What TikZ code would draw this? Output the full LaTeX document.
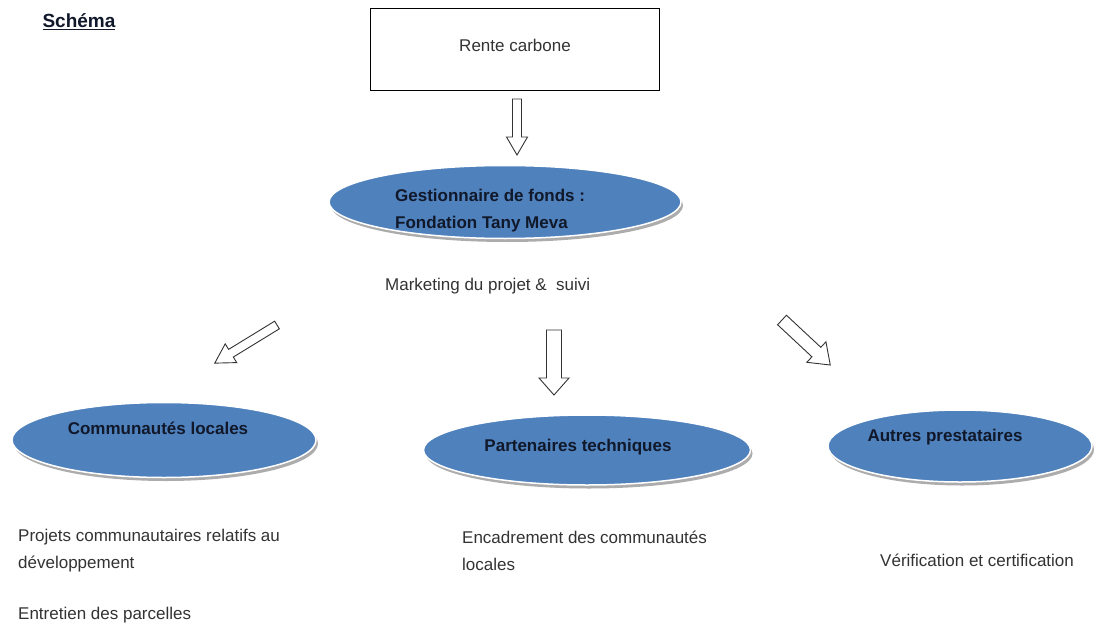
\documentclass[tikz,border=0pt]{standalone}
\usepackage{fontspec}
\setmainfont{Liberation Sans}
\usetikzlibrary{shapes.geometric,shadows}
\definecolor{ellblue}{HTML}{4F81BD}
\definecolor{txtdark}{HTML}{10182A}
\definecolor{txtgray}{HTML}{333333}
\newcommand{\barr}[7]{%
  \draw[barrow, shift={(#1,#2)}, rotate=#3]
    (0,-#5/2) -- (#4-#7,-#5/2) -- (#4-#7,-#6/2) -- (#4,0) -- (#4-#7,#6/2) -- (#4-#7,#5/2) -- (0,#5/2) -- cycle;}
\begin{document}
\begin{tikzpicture}[x=1pt,y=-1pt,
  every node/.style={font=\fontsize{17}{20}\selectfont, inner sep=0pt},
  ell/.style={ellipse, fill=ellblue, draw=white, line width=1.5pt,
    drop shadow={shadow xshift=2pt, shadow yshift=-3.5pt, fill=gray!65, opacity=1}},
  etext/.style={font=\fontsize{17}{27}\selectfont\bfseries, text=txtdark, align=left},
  body/.style={text=txtgray, align=left},
  barrow/.style={draw=black!80, fill=white, line width=0.9pt, line join=miter}]
\useasboundingbox (0,0) rectangle (1094,623);
\fill[white] (0,0) rectangle (1094,623);

\node[font=\fontsize{19}{20}\selectfont\bfseries, text=txtdark] (title) at (79,22) {\underline{Schéma}};

\node[draw=black, line width=0.8pt, minimum width=289pt, minimum height=82pt] (rente) at (514.5,49) {};
\node[body] (rentetxt) at (515,45) {Rente carbone};

\barr{517}{99}{-90}{56}{9}{21}{18}

\node[ell, minimum width=352pt, minimum height=73pt] (gest) at (505,202) {};
\node[etext, anchor=west] (gesttxt) at (395,211) {Gestionnaire de fonds :\\Fondation Tany Meva};

\node[body, anchor=west] (mkt) at (385,286) {Marketing du projet \&\ \ suivi};

\barr{277}{325}{-148.5}{73}{9}{22}{19}
\barr{554}{330}{-90}{65}{15}{30}{17}
\barr{782}{320}{-43}{66}{13}{28}{19}

\node[ell, minimum width=304pt, minimum height=75pt] (comm) at (164,440) {};
\node[etext] (commtxt) at (158,428) {Communautés locales};

\node[ell, minimum width=327pt, minimum height=70pt] (part) at (587,450) {};
\node[etext] (parttxt) at (578,447) {Partenaires techniques};

\node[ell, minimum width=264pt, minimum height=72pt] (autr) at (960,446) {};
\node[etext] (autrtxt) at (945,437) {Autres prestataires};

\node[body, anchor=west, font=\fontsize{17}{27}\selectfont] (proj) at (18,551) {Projets communautaires relatifs au\\développement};
\node[body, anchor=west] (entr) at (18,615) {Entretien des parcelles};
\node[body, anchor=west, font=\fontsize{17}{27}\selectfont] (enc) at (462,551) {Encadrement des communautés\\locales};
\node[body, anchor=west] (verif) at (880,560) {Vérification et certification};
\end{tikzpicture}
\end{document}
